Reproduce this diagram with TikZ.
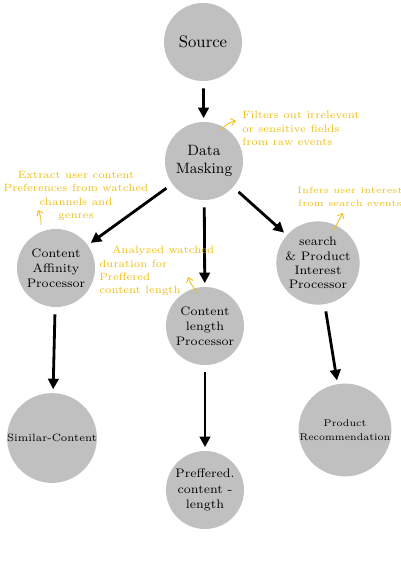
\documentclass[tikz,border=0pt]{standalone}
\usetikzlibrary{arrows.meta}
\definecolor{nodegray}{RGB}{192,192,192}
\definecolor{note}{RGB}{240,192,20}
\begin{document}
\begin{tikzpicture}[x=0.02cm,y=-0.02cm,
  proc/.style={circle,fill=nodegray,minimum size=1.56cm,inner sep=0pt,align=center,text=black},
  flow/.style={line width=1.6pt,-{Triangle[length=6pt,width=6pt]},shorten <=4pt,shorten >=2pt},
  notetext/.style={text=note,font=\fontsize{6}{7.6}\selectfont,inner sep=0pt},
  notearrow/.style={draw=note,line width=0.5pt,-{Straight Barb[length=2.5pt,width=4pt]}}]
\useasboundingbox[fill=white] (0,0) rectangle (400,564);
\node[proc,font=\fontsize{9.5}{12}\selectfont] (src) at (203,42) {Source};
\node[proc,font=\fontsize{8.5}{10}\selectfont] (dm) at (204,161) {Data\\Masking};
\node[proc,font=\fontsize{7}{8.6}\selectfont] (ca) at (56,268) {Content\\Affinity\\Processor};
\node[proc,font=\fontsize{7}{8.6}\selectfont] (cl) at (205,326) {Content\\length\\Processor};
\node[proc,font=\fontsize{7}{8.2}\selectfont] (sp) at (318,263) {search\\\& Product\\Interest\\Processor};
\node[proc,font=\fontsize{6}{7}\selectfont] (sim) at (52,438) {Similar-Content};
\node[proc,font=\fontsize{7}{9}\selectfont] (pref) at (205,490) {Preffered.\\content -\\length};
\node[proc,font=\fontsize{5.6}{8}\selectfont] (pr) at (345,430) {Product\\Recommendation};

\draw[flow] (src) -- (dm);
\draw[flow] (dm) -- (ca);
\draw[flow] (dm) -- (cl);
\draw[flow] (dm) -- (sp);
\draw[flow] (ca) -- (sim);
\draw[flow] (cl) -- (pref);
\draw[flow] (sp) -- (pr);

\node[notetext,align=left,anchor=north west] (n1) at (242,111) {Filters out irrelevent\\or sensitive fields\\from raw events};
\node[notetext,align=center] (n2) at (76,196) {Extract user content\\Preferences from watched\\channels and\\genres};
\node[notetext,align=center,font=\fontsize{5.3}{7.2}\selectfont] (n3) at (350,197) {Infers user interest\\from search events};
\node[notetext,align=left,anchor=north west] (n4) at (99,246) {\hspace{1.2em}Analyzed watched\\duration for\\Preffered\\content length};

\coordinate (a1s) at (221,130); \coordinate (a1e) at (236,121);
\coordinate (a2s) at (41,225); \coordinate (a2e) at (38,210);
\coordinate (a3s) at (333,231); \coordinate (a3e) at (343,213);
\coordinate (a4s) at (198,293); \coordinate (a4e) at (188,277);
\draw[notearrow] (a1s) to[bend left=20] (a1e);
\draw[notearrow] (a2s) to[bend right=15] (a2e);
\draw[notearrow] (a3s) -- (a3e);
\draw[notearrow] (a4s) to[bend left=10] (a4e);
\end{tikzpicture}
\end{document}
